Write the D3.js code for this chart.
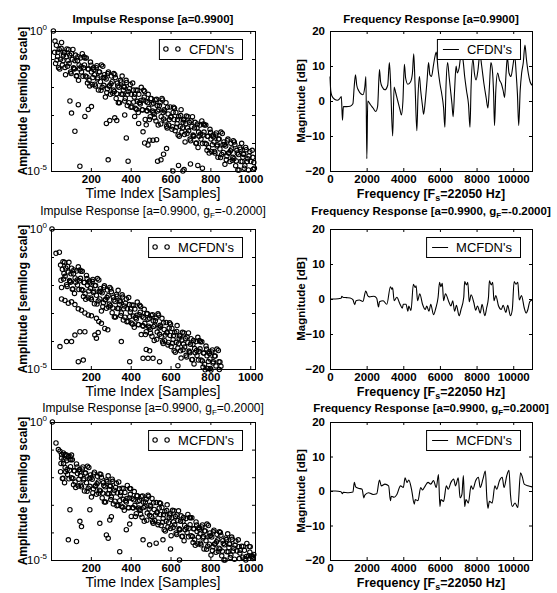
<!DOCTYPE html>
<html>
<head>
<meta charset="utf-8">
<script src="https://cdn.jsdelivr.net/npm/d3@7"></script>
<style>
body { margin: 0; background: #fff; }
</style>
</head>
<body>
<svg id="chart" width="557" height="593"></svg>
<script>
//Tick values
const timeTicks = [200, 400, 600, 800, 1000];
const ampTicks = [1e-5, 1e-4, 1e-3, 1e-2, 1e-1, 1];
const freqTicks = [0, 2000, 4000, 6000, 8000, 10000];
const dbTicks = [-20, -10, 0, 10, 20];

//Impulse responses: [sample index, log10 amplitude]
const cfdnImpulse = [
  [12,0],
  [18,-0.76],[23,-1.16],[27,-0.51],[33,-0.91],[38,-1.31],[41,-0.66],[48,-1.01],[53,-0.41],[57,-1.21],[63,-0.86],
  [68,-0.76],[73,-1.56],[77,-0.91],[83,-1.26],[88,-0.66],[91,-1.16],[98,-1.46],[103,-0.81],[107,-1.01],[113,-1.31],
  [118,-1.36],[123,-0.86],[127,-1.61],[133,-1.06],[138,-1.76],[141,-1.21],[148,-0.96],[153,-1.46],[157,-0.81],[163,-1.31],
  [168,-1.21],[173,-1.61],[177,-0.96],[183,-1.86],[188,-1.36],[191,-1.76],[198,-1.11],[203,-1.46],[207,-1.91],[213,-1.31],
  [218,-1.56],[223,-1.96],[227,-1.31],[233,-1.71],[238,-2.11],[241,-1.46],[248,-1.81],[253,-1.21],[257,-2.01],[263,-1.66],
  [268,-1.56],[273,-2.36],[277,-1.71],[283,-2.06],[288,-1.46],[291,-1.96],[298,-2.26],[303,-1.61],[307,-1.81],[313,-2.11],
  [318,-2.16],[323,-1.66],[327,-2.41],[333,-1.86],[338,-2.56],[341,-2.01],[348,-1.76],[353,-2.26],[357,-1.61],[363,-2.11],
  [368,-2.01],[373,-2.41],[377,-1.76],[383,-2.66],[388,-2.16],[391,-2.56],[398,-1.91],[403,-2.26],[407,-2.71],[413,-2.11],
  [418,-2.36],[423,-2.76],[427,-2.11],[433,-2.51],[438,-2.91],[441,-2.26],[448,-2.61],[453,-2.01],[457,-2.81],[463,-2.46],
  [468,-2.36],[473,-3.16],[477,-2.51],[483,-2.86],[488,-2.26],[491,-2.76],[498,-3.06],[503,-2.41],[507,-2.61],[513,-2.91],
  [518,-2.96],[523,-2.46],[527,-3.21],[533,-2.66],[538,-3.36],[541,-2.81],[548,-2.56],[553,-3.06],[557,-2.41],[563,-2.91],
  [568,-2.81],[573,-3.21],[577,-2.56],[583,-3.46],[588,-2.96],[591,-3.36],[598,-2.71],[603,-3.06],[607,-3.51],[613,-2.91],
  [618,-3.16],[623,-3.56],[627,-2.91],[633,-3.31],[638,-3.71],[641,-3.06],[648,-3.41],[653,-2.81],[657,-3.61],[663,-3.26],
  [668,-3.16],[673,-3.96],[677,-3.31],[683,-3.66],[688,-3.06],[691,-3.56],[698,-3.86],[703,-3.21],[707,-3.41],[713,-3.71],
  [718,-3.76],[723,-3.26],[727,-4.01],[733,-3.46],[738,-4.16],[741,-3.61],[748,-3.36],[753,-3.86],[757,-3.21],[763,-3.71],
  [768,-3.61],[773,-4.01],[777,-3.36],[783,-4.26],[788,-3.76],[791,-4.16],[798,-3.51],[803,-3.86],[807,-4.31],[813,-3.71],
  [818,-3.96],[823,-4.36],[827,-3.71],[833,-4.11],[838,-4.51],[841,-3.86],[848,-4.21],[853,-3.61],[857,-4.41],[863,-4.06],
  [868,-3.96],[873,-4.76],[877,-4.11],[883,-4.46],[888,-3.86],[891,-4.36],[898,-4.66],[903,-4.01],[907,-4.21],[913,-4.51],
  [918,-4.56],[923,-4.06],[927,-4.81],[933,-4.26],[938,-4.96],[941,-4.41],[948,-4.16],[953,-4.66],[957,-4.01],[963,-4.51],
  [968,-4.41],[973,-4.81],[977,-4.16],[983,-5.06],[988,-4.56],[991,-4.96],[998,-4.31],[1003,-4.66],[1007,-5.11],[1013,-4.51],
  [1018,-4.7],[1021,-4.9],
  [20,-0.36],[30,-1.04],[35,-0.76],[44,-1.36],[51,-0.62],[60,-1.06],[65,-0.78],
  [70,-1.30],[80,-0.64],[85,-1.06],[94,-0.86],[101,-1.52],[110,-0.66],[115,-1.34],
  [120,-1.06],[130,-1.60],[135,-0.92],[144,-1.36],[151,-1.28],[160,-1.62],[165,-0.92],
  [170,-0.96],[180,-1.64],[185,-1.36],[194,-1.96],[201,-1.22],[210,-1.66],[215,-1.38],
  [220,-1.90],[230,-1.24],[235,-1.66],[244,-1.46],[251,-2.12],[260,-1.26],[265,-1.94],
  [270,-1.66],[280,-2.20],[285,-1.52],[294,-1.96],[301,-1.88],[310,-2.22],[315,-1.52],
  [320,-1.56],[330,-2.24],[335,-1.96],[344,-2.56],[351,-1.82],[360,-2.26],[365,-1.98],
  [370,-2.50],[380,-1.84],[385,-2.26],[394,-2.06],[401,-2.72],[410,-1.86],[415,-2.54],
  [420,-2.26],[430,-2.80],[435,-2.12],[444,-2.56],[451,-2.48],[460,-2.82],[465,-2.12],
  [470,-2.16],[480,-2.84],[485,-2.56],[494,-3.16],[501,-2.42],[510,-2.86],[515,-2.58],
  [520,-3.10],[530,-2.44],[535,-2.86],[544,-2.66],[551,-3.32],[560,-2.46],[565,-3.14],
  [570,-2.86],[580,-3.40],[585,-2.72],[594,-3.16],[601,-3.08],[610,-3.42],[615,-2.72],
  [620,-2.76],[630,-3.44],[635,-3.16],[644,-3.76],[651,-3.02],[660,-3.46],[665,-3.18],
  [670,-3.70],[680,-3.04],[685,-3.46],[694,-3.26],[701,-3.92],[710,-3.06],[715,-3.74],
  [720,-3.46],[730,-4.00],[735,-3.32],[744,-3.76],[751,-3.68],[760,-4.02],[765,-3.32],
  [770,-3.36],[780,-4.04],[785,-3.76],[794,-4.36],[801,-3.62],[810,-4.06],[815,-3.78],
  [820,-4.30],[830,-3.64],[835,-4.06],[844,-3.86],[851,-4.52],[860,-3.66],[865,-4.34],
  [870,-4.06],[880,-4.60],[885,-3.92],[894,-4.36],[901,-4.28],[910,-4.62],[915,-3.92],
  [920,-3.96],[930,-4.64],[935,-4.36],[944,-4.96],[951,-4.22],[960,-4.66],[965,-4.38],
  [970,-4.90],[980,-4.24],[985,-4.66],[994,-4.46],[1001,-5.12],[1010,-4.26],[1015,-4.94],
  [95,-2.5],[103,-2.93],[120,-3.58],[137,-2.63],[145,-4.83],[170,-3.05],[187,-2.8],[203,-2.7],[278,-3.3],[295,-3.2],
  [287,-4.6],[320,-3.1],[330,-3.2],[370,-3.0],[378,-3.82],[387,-4.65],[420,-3.05],[440,-3.3],[462,-3.6],[470,-4.0],
  [478,-3.35],[487,-4.07],[495,-3.9],[512,-3.9],[530,-3.88],[535,-4.65],[552,-4.6],[565,-4.4],[580,-4.2],[612,-5.0],
  [640,-4.8],[662,-5.0],[668,-4.95],[700,-4.75],[737,-4.8],[760,-4.9]
];

const mcfdnNegImpulse = [
  [5,0],[25,-0.87],[42,-0.83],
  [48,-1.29],[53,-2.09],[57,-1.44],[63,-1.79],[68,-1.19],[71,-1.69],[78,-1.99],[83,-1.34],[87,-1.54],[93,-1.84],
  [98,-1.90],[103,-1.40],[107,-2.15],[113,-1.60],[118,-2.30],[121,-1.75],[128,-1.50],[133,-2.00],[137,-1.35],[143,-1.85],
  [148,-1.76],[153,-2.16],[157,-1.51],[163,-2.41],[168,-1.91],[171,-2.31],[178,-1.66],[183,-2.01],[187,-2.46],[193,-1.86],
  [198,-2.12],[203,-2.52],[207,-1.87],[213,-2.27],[218,-2.67],[221,-2.02],[228,-2.37],[233,-1.77],[237,-2.57],[243,-2.22],
  [248,-2.13],[253,-2.93],[257,-2.28],[263,-2.63],[268,-2.03],[271,-2.53],[278,-2.83],[283,-2.18],[287,-2.38],[293,-2.68],
  [298,-2.74],[303,-2.24],[307,-2.99],[313,-2.44],[318,-3.14],[321,-2.59],[328,-2.34],[333,-2.84],[337,-2.19],[343,-2.69],
  [348,-2.60],[353,-3.00],[357,-2.35],[363,-3.25],[368,-2.75],[371,-3.15],[378,-2.50],[383,-2.85],[387,-3.30],[393,-2.70],
  [398,-2.96],[403,-3.36],[407,-2.71],[413,-3.11],[418,-3.51],[421,-2.86],[428,-3.21],[433,-2.61],[437,-3.41],[443,-3.06],
  [448,-2.97],[453,-3.77],[457,-3.12],[463,-3.47],[468,-2.87],[471,-3.37],[478,-3.67],[483,-3.02],[487,-3.22],[493,-3.52],
  [498,-3.58],[503,-3.08],[507,-3.83],[513,-3.28],[518,-3.98],[521,-3.43],[528,-3.18],[533,-3.68],[537,-3.03],[543,-3.53],
  [548,-3.44],[553,-3.84],[557,-3.19],[563,-4.09],[568,-3.59],[571,-3.99],[578,-3.34],[583,-3.69],[587,-4.14],[593,-3.54],
  [598,-3.80],[603,-4.20],[607,-3.55],[613,-3.95],[618,-4.35],[621,-3.70],[628,-4.05],[633,-3.45],[637,-4.25],[643,-3.90],
  [648,-3.81],[653,-4.61],[657,-3.96],[663,-4.31],[668,-3.71],[671,-4.21],[678,-4.51],[683,-3.86],[687,-4.06],[693,-4.36],
  [698,-4.42],[703,-3.92],[707,-4.67],[713,-4.12],[718,-4.82],[721,-4.27],[728,-4.02],[733,-4.52],[737,-3.87],[743,-4.37],
  [748,-4.28],[753,-4.68],[757,-4.03],[763,-4.93],[768,-4.43],[771,-4.83],[778,-4.18],[783,-4.53],[787,-4.98],[793,-4.38],
  [798,-4.64],[803,-5.04],[807,-4.39],[813,-4.79],[818,-5.19],[821,-4.54],[828,-4.89],[833,-4.29],[837,-5.09],[843,-4.74],
  [848,-4.75],[853,-4.9],
  [50,-1.83],[60,-1.17],[65,-1.59],[74,-1.39],[81,-2.05],[90,-1.19],[95,-1.87],
  [100,-1.60],[110,-2.14],[115,-1.46],[124,-1.90],[131,-1.82],[140,-2.16],[145,-1.46],
  [150,-1.51],[160,-2.19],[165,-1.91],[174,-2.51],[181,-1.77],[190,-2.21],[195,-1.93],
  [200,-2.46],[210,-1.80],[215,-2.22],[224,-2.02],[231,-2.68],[240,-1.82],[245,-2.50],
  [250,-2.23],[260,-2.77],[265,-2.09],[274,-2.53],[281,-2.45],[290,-2.79],[295,-2.09],
  [300,-2.14],[310,-2.82],[315,-2.54],[324,-3.14],[331,-2.40],[340,-2.84],[345,-2.56],
  [350,-3.09],[360,-2.43],[365,-2.85],[374,-2.65],[381,-3.31],[390,-2.45],[395,-3.13],
  [400,-2.86],[410,-3.40],[415,-2.72],[424,-3.16],[431,-3.08],[440,-3.42],[445,-2.72],
  [450,-2.77],[460,-3.45],[465,-3.17],[474,-3.77],[481,-3.03],[490,-3.47],[495,-3.19],
  [500,-3.72],[510,-3.06],[515,-3.48],[524,-3.28],[531,-3.94],[540,-3.08],[545,-3.76],
  [550,-3.49],[560,-4.03],[565,-3.35],[574,-3.79],[581,-3.71],[590,-4.05],[595,-3.35],
  [600,-3.40],[610,-4.08],[615,-3.80],[624,-4.40],[631,-3.66],[640,-4.10],[645,-3.82],
  [650,-4.35],[660,-3.69],[665,-4.11],[674,-3.91],[681,-4.57],[690,-3.71],[695,-4.39],
  [700,-4.12],[710,-4.66],[715,-3.98],[724,-4.42],[731,-4.34],[740,-4.68],[745,-3.98],
  [750,-4.03],[760,-4.71],[765,-4.43],[774,-5.03],[781,-4.29],[790,-4.73],[795,-4.45],
  [800,-4.98],[810,-4.32],[815,-4.74],[824,-4.54],[831,-5.20],[840,-4.34],[845,-5.02],
  [53,-2.5],[70,-2.55],[87,-2.65],[103,-2.6],[120,-2.7],[137,-2.85],[153,-2.9],[170,-3.0],[187,-3.07],[203,-3.1],
  [228,-3.19],[240,-3.3],[253,-3.37],[270,-3.55],[285,-3.6],
  [45,-4.2],[78,-4.02],[103,-4.02],[120,-3.79],[145,-3.67],[170,-3.67],[137,-4.74],[162,-4.68],[220,-3.79],[237,-3.7],
  [228,-3.9],[353,-4.02],[395,-4.74],[462,-4.62],[478,-4.3],[487,-4.62],[495,-4.35],[512,-4.62],[545,-4.74],[637,-4.88]
];

const mcfdnPosImpulse = [
  [7,0],[25,-0.76],[37,-1.0],[45,-1.06],[53,-1.18],[62,-1.12],[70,-1.18],[78,-1.2],[95,-1.25],[103,-1.2],
  [48,-1.80],[53,-1.30],[57,-2.05],[63,-1.50],[68,-2.20],[71,-1.65],[78,-1.40],[83,-1.90],[87,-1.25],[93,-1.75],
  [98,-1.62],[103,-2.02],[107,-1.37],[113,-2.27],[118,-1.77],[121,-2.17],[128,-1.52],[133,-1.87],[137,-2.32],[143,-1.72],
  [148,-1.95],[153,-2.35],[157,-1.70],[163,-2.10],[168,-2.50],[171,-1.85],[178,-2.20],[183,-1.60],[187,-2.40],[193,-2.05],
  [198,-1.92],[203,-2.72],[207,-2.07],[213,-2.42],[218,-1.82],[221,-2.32],[228,-2.62],[233,-1.97],[237,-2.17],[243,-2.47],
  [248,-2.50],[253,-2.00],[257,-2.75],[263,-2.20],[268,-2.90],[271,-2.35],[278,-2.10],[283,-2.60],[287,-1.95],[293,-2.45],
  [298,-2.32],[303,-2.72],[307,-2.07],[313,-2.97],[318,-2.47],[321,-2.87],[328,-2.22],[333,-2.57],[337,-3.02],[343,-2.42],
  [348,-2.65],[353,-3.05],[357,-2.40],[363,-2.80],[368,-3.20],[371,-2.55],[378,-2.90],[383,-2.30],[387,-3.10],[393,-2.75],
  [398,-2.62],[403,-3.42],[407,-2.77],[413,-3.12],[418,-2.52],[421,-3.02],[428,-3.32],[433,-2.67],[437,-2.87],[443,-3.17],
  [448,-3.20],[453,-2.70],[457,-3.45],[463,-2.90],[468,-3.60],[471,-3.05],[478,-2.80],[483,-3.30],[487,-2.65],[493,-3.15],
  [498,-3.02],[503,-3.42],[507,-2.77],[513,-3.67],[518,-3.17],[521,-3.57],[528,-2.92],[533,-3.27],[537,-3.72],[543,-3.12],
  [548,-3.35],[553,-3.75],[557,-3.10],[563,-3.50],[568,-3.90],[571,-3.25],[578,-3.60],[583,-3.00],[587,-3.80],[593,-3.45],
  [598,-3.32],[603,-4.12],[607,-3.47],[613,-3.82],[618,-3.22],[621,-3.72],[628,-4.02],[633,-3.37],[637,-3.57],[643,-3.87],
  [648,-3.90],[653,-3.40],[657,-4.15],[663,-3.60],[668,-4.30],[671,-3.75],[678,-3.50],[683,-4.00],[687,-3.35],[693,-3.85],
  [698,-3.72],[703,-4.12],[707,-3.47],[713,-4.37],[718,-3.87],[721,-4.27],[728,-3.62],[733,-3.97],[737,-4.42],[743,-3.82],
  [748,-4.05],[753,-4.45],[757,-3.80],[763,-4.20],[768,-4.60],[771,-3.95],[778,-4.30],[783,-3.70],[787,-4.50],[793,-4.15],
  [798,-4.02],[803,-4.82],[807,-4.17],[813,-4.52],[818,-3.92],[821,-4.42],[828,-4.72],[833,-4.07],[837,-4.27],[843,-4.57],
  [848,-4.60],[853,-4.10],[857,-4.85],[863,-4.30],[868,-5.00],[871,-4.45],[878,-4.20],[883,-4.70],[887,-4.05],[893,-4.55],
  [898,-4.42],[903,-4.82],[907,-4.17],[913,-5.07],[918,-4.57],[921,-4.97],[928,-4.32],[933,-4.67],[937,-5.12],[943,-4.52],
  [948,-4.75],[953,-5.15],[957,-4.50],[963,-4.90],[968,-5.30],[971,-4.65],[978,-5.00],[983,-4.40],[987,-5.20],[993,-4.85],
  [998,-4.72],[1003,-5.2],[1007,-4.87],[1013,-4.95],[1018,-4.8],
  [50,-1.50],[60,-2.04],[65,-1.36],[74,-1.80],[81,-1.72],[90,-2.06],[95,-1.36],
  [100,-1.37],[110,-2.05],[115,-1.77],[124,-2.37],[131,-1.63],[140,-2.07],[145,-1.79],
  [150,-2.29],[160,-1.63],[165,-2.05],[174,-1.85],[181,-2.51],[190,-1.65],[195,-2.33],
  [200,-2.02],[210,-2.56],[215,-1.88],[224,-2.32],[231,-2.24],[240,-2.58],[245,-1.88],
  [250,-1.90],[260,-2.58],[265,-2.30],[274,-2.90],[281,-2.16],[290,-2.60],[295,-2.32],
  [300,-2.81],[310,-2.15],[315,-2.57],[324,-2.37],[331,-3.03],[340,-2.17],[345,-2.85],
  [350,-2.55],[360,-3.09],[365,-2.41],[374,-2.85],[381,-2.77],[390,-3.11],[395,-2.41],
  [400,-2.42],[410,-3.10],[415,-2.82],[424,-3.42],[431,-2.68],[440,-3.12],[445,-2.84],
  [450,-3.34],[460,-2.68],[465,-3.10],[474,-2.90],[481,-3.56],[490,-2.70],[495,-3.38],
  [500,-3.07],[510,-3.61],[515,-2.93],[524,-3.37],[531,-3.29],[540,-3.63],[545,-2.93],
  [550,-2.95],[560,-3.63],[565,-3.35],[574,-3.95],[581,-3.21],[590,-3.65],[595,-3.37],
  [600,-3.86],[610,-3.20],[615,-3.62],[624,-3.42],[631,-4.08],[640,-3.22],[645,-3.90],
  [650,-3.60],[660,-4.14],[665,-3.46],[674,-3.90],[681,-3.82],[690,-4.16],[695,-3.46],
  [700,-3.47],[710,-4.15],[715,-3.87],[724,-4.47],[731,-3.73],[740,-4.17],[745,-3.89],
  [750,-4.39],[760,-3.73],[765,-4.15],[774,-3.95],[781,-4.61],[790,-3.75],[795,-4.43],
  [800,-4.12],[810,-4.66],[815,-3.98],[824,-4.42],[831,-4.34],[840,-4.68],[845,-3.98],
  [850,-4.00],[860,-4.68],[865,-4.40],[874,-5.00],[881,-4.26],[890,-4.70],[895,-4.42],
  [900,-4.91],[910,-4.25],[915,-4.67],[924,-4.47],[931,-5.13],[940,-4.27],[945,-4.95],
  [950,-4.65],[960,-5.19],[965,-4.51],[974,-4.95],[981,-4.87],[990,-5.21],[995,-4.51],
  [1000,-4.52],[1010,-4.85],[1015,-4.9],
  [95,-3.18],[145,-3.6],[153,-3.79],[87,-4.27],[128,-4.33],[195,-3.18],[245,-3.67],[278,-4.09],[287,-4.21],[295,-3.55],
  [303,-3.43],[345,-4.7],[378,-3.9],[395,-3.7],[462,-4.27],[495,-4.45],[528,-4.39],[562,-4.27],[600,-4.6],[645,-5.0]
];

//Frequency responses: [frequency in Hz, magnitude in dB]
const cfdnFreq = [
  [0,7],[40,3],[100,1.5],[250,0.5],[400,0.2],[520,0.6],[620,1.3],[680,-5.5],[730,-1.6],[900,-1.6],
  [1100,-1.5],[1250,-0.8],[1320,4],[1390,7.5],[1460,4.5],[1560,3],[1700,2],[1800,1.8],[1900,4],[1960,7],
  [2010,-16.5],[2060,0],[2200,-1],[2350,-2],[2500,-3],[2600,-1.5],[2700,9],[2760,5.5],[2850,4],[3000,3.2],
  [3150,4.5],[3240,11],[3300,6],[3420,-10],[3500,4],[3580,2.5],[3700,0],[3820,-2.5],[3900,-4],[3980,0],
  [4060,10.5],[4130,6.5],[4250,4.8],[4400,5.5],[4500,8],[4570,13.5],[4640,5],[4740,-8.5],[4800,1],[4880,7],
  [4950,3],[5050,-1.5],[5110,-3.8],[5200,0],[5300,6],[5380,11],[5450,7.5],[5540,7],[5640,10],[5720,12.5],
  [5800,14],[5900,9],[6000,5],[6100,2],[6200,-2],[6270,-7.5],[6330,4],[6420,11],[6500,7],[6580,3],
  [6660,-1],[6720,-4.5],[6800,3],[6880,10],[6950,8],[7050,9.5],[7150,13],[7250,12],[7350,7],[7450,3],
  [7560,-1],[7640,-7.5],[7700,4],[7800,12],[7880,8],[7970,6],[8080,9],[8180,13.5],[8280,10],[8400,5],
  [8520,1],[8620,-2],[8700,4],[8780,11],[8860,9],[8930,2],[8980,-7],[9050,3],[9150,8],[9250,6],
  [9350,5],[9450,3],[9530,1],[9600,7],[9680,12.5],[9770,8],[9880,7],[9980,10],[10080,13],[10160,8],
  [10230,2],[10300,-7],[10380,3],[10460,8],[10550,11],[10640,16],[10720,12],[10820,8],[10920,5.5],[11025,4.5]
];

const mcfdnNegFreq = [
  [0,0],[300,0],[600,0.2],[650,0.8],[700,0.5],[900,0.4],[1100,0.3],[1250,-0.2],[1350,-1.6],[1420,-0.5],
  [1600,-0.3],[1800,-0.7],[1950,2.3],[2000,1.8],[2050,1.0],[2150,0.6],[2400,0.8],[2550,0.2],[2650,-2.3],[2700,-0.8],
  [2900,-0.5],[3100,-1.5],[3300,3.5],[3380,2.8],[3420,3.2],[3500,-0.5],[3650,0.5],[3800,-1.2],[3950,-2.6],[4000,-1.5],
  [4150,-1.5],[4250,-3.5],[4300,-2.0],[4420,-3.3],[4550,4.2],[4650,3.3],[4700,3.8],[4780,-0.5],[4900,1.5],[5050,-1.5],
  [5200,-3.0],[5280,-2.0],[5400,-3.5],[5500,-1.5],[5650,-4.5],[5780,-2.5],[5900,0.5],[5980,4.8],[6050,3.5],[6130,4.5],
  [6200,-0.5],[6300,1.5],[6500,-1.0],[6600,-2.0],[6700,-0.5],[6800,-3.5],[6900,-1.8],[7050,-4.8],[7150,-3.0],[7300,0.5],
  [7350,5.0],[7450,4.0],[7520,4.8],[7600,-0.8],[7700,1.2],[7850,-1.0],[7950,-3.2],[8050,-2.0],[8200,-4.0],[8300,-1.5],
  [8450,-4.8],[8550,-2.5],[8650,0.5],[8700,5.2],[8800,4.0],[8880,4.8],[8950,-0.5],[9050,1.0],[9200,-2.0],[9350,-3.0],
  [9450,-1.8],[9600,-3.8],[9700,-1.8],[9850,-4.8],[9950,-3.0],[10050,5.0],[10150,4.2],[10250,4.8],[10330,-0.3],[10450,1.0],
  [10600,-2.5],[10700,-4.0],[10800,-3.0],[10900,-0.8],[11025,-0.3]
];

const mcfdnPosFreq = [
  [0,0],[300,0],[600,-0.2],[680,-0.8],[720,-0.4],[1000,-0.5],[1250,-0.3],[1330,2.5],[1400,1.2],[1550,0.8],
  [1750,0.5],[1850,-2.0],[1900,-1.2],[2100,-0.5],[2350,-1.0],[2550,-0.8],[2700,3.2],[2800,1.5],[3000,2.0],[3200,1.5],
  [3300,-2.8],[3350,-1.5],[3500,-1.8],[3650,-1.0],[3850,1.5],[4000,1.0],[4100,3.8],[4200,2.5],[4300,3.2],[4450,0.5],
  [4600,-3.8],[4650,-2.5],[4800,-2.8],[4950,1.0],[5050,0.3],[5200,1.5],[5350,2.5],[5500,2.0],[5650,3.0],[5800,1.0],
  [5920,4.8],[6000,-4.5],[6050,-2.5],[6200,-3.0],[6350,1.5],[6450,0.5],[6600,2.5],[6750,3.5],[6850,1.5],[7000,3.8],
  [7100,-2.0],[7200,-1.0],[7280,4.5],[7350,-4.5],[7420,-2.5],[7550,-3.5],[7700,1.5],[7800,0.5],[7950,3.0],[8100,4.0],
  [8200,1.0],[8350,3.5],[8480,5.8],[8560,-2.0],[8620,-5.0],[8700,-3.0],[8850,-3.5],[9000,1.5],[9100,0.5],[9250,3.0],
  [9400,4.0],[9500,1.0],[9650,4.5],[9770,6.0],[9850,-1.0],[9950,-4.5],[10100,-3.5],[10250,-4.8],[10400,5.3],[10500,4.0],
  [10600,2.0],[10800,1.5],[11025,1.2]
];

//Panel texts
const panelTitles = [
  ["Impulse Response [a=0.9900]"],
  ["Frequency Response [a=0.9900]"],
  ["Impulse Response [a=0.9900, g", {sub: "F"}, "=-0.2000]"],
  ["Frequency Response [a=0.9900, g", {sub: "F"}, "=-0.2000]"],
  ["Impulse Response [a=0.9900, g", {sub: "F"}, "=0.2000]"],
  ["Frequency Response [a=0.9900, g", {sub: "F"}, "=0.2000]"]
];
const legendNames = ["CFDN's", "CFDN's", "MCFDN's", "MCFDN's", "MCFDN's", "MCFDN's"];

var svg = d3.select("#chart");
var font = "'Liberation Sans', Arial, Helvetica, sans-serif";

//Plot rectangles
var cols = [[51, 255], [330, 532]];
var rows = [[31, 171], [229, 369], [422, 560]];
var titleBase = [23, 215, 412];
//Distance from the bottom of each row to its x label baseline
var xLabelGap = [27, 27, 27];

//Write a text made of plain strings and {sub: ...} parts
function writeParts(textSel, parts, subSize){
    var shift = 0;
    parts.forEach(function(p){
        if (typeof p === "string") {
            textSel.append("tspan").attr("dy", -shift).text(p);
            shift = 0;
        } else {
            textSel.append("tspan").attr("dy", 3).attr("font-size", subSize).text(p.sub);
            shift = 3;
        }
    });
}

//Box with inward ticks on all four sides
function drawFrame(g, x, y, xTicks, yTicks, showYLabels){
    var xr = x.range(), yr = y.range();
    g.append("rect")
    .attr("x", xr[0] + 0.5).attr("y", yr[1] + 0.5)
    .attr("width", xr[1] - xr[0]).attr("height", yr[0] - yr[1])
    .attr("fill", "none").attr("stroke", "#000").attr("stroke-width", 1);

    var bottom = g.append("g").attr("transform", "translate(0," + yr[0] + ")")
    .call(d3.axisBottom(x).tickValues(xTicks).tickSize(-3).tickSizeOuter(0).tickPadding(4).tickFormat(d3.format("d")));
    bottom.attr("font-size", 11.5).attr("font-family", font).attr("font-weight", "bold");

    g.append("g").attr("transform", "translate(0," + yr[1] + ")")
    .call(d3.axisTop(x).tickValues(xTicks).tickSize(-3).tickSizeOuter(0).tickFormat(""));

    var left = g.append("g").attr("transform", "translate(" + xr[0] + ",0)")
    .call(d3.axisLeft(y).tickValues(yTicks).tickSize(-3).tickSizeOuter(0).tickPadding(5)
        .tickFormat(showYLabels ? d3.format("d") : ""));
    left.attr("font-size", 11.5).attr("font-family", font).attr("font-weight", "bold");

    g.append("g").attr("transform", "translate(" + xr[1] + ",0)")
    .call(d3.axisRight(y).tickValues(yTicks).tickSize(-3).tickSizeOuter(0).tickFormat(""));

    g.selectAll(".domain").remove();
    g.selectAll(".tick line").attr("stroke-width", 1);
}

//Legend anchored at its upper right corner
function drawLegend(g, right, top, name, kind){
    var lg = g.append("g");
    var box = lg.append("rect");
    var txt = lg.append("text").attr("font-size", 13).attr("font-family", font).text(name);
    var w = txt.node().getComputedTextLength() + 38;
    var left = right - w;
    box.attr("x", left + 0.5).attr("y", top + 0.5).attr("width", w).attr("height", 20)
    .attr("fill", "#fff").attr("stroke", "#000");
    txt.attr("x", left + 30).attr("y", top + 15);
    if (kind === "marker") {
        lg.selectAll("circle").data([left + 7, left + 19]).enter().append("circle")
        .attr("cx", function(d){return d;}).attr("cy", top + 10).attr("r", 2.2)
        .attr("fill", "none").attr("stroke", "#000").attr("stroke-width", 1.1);
    } else {
        lg.append("line").attr("x1", left + 6).attr("x2", left + 22)
        .attr("y1", top + 10.5).attr("y2", top + 10.5).attr("stroke", "#000");
    }
}

//Title and axis labels of one panel
function drawTexts(g, col, row, titleParts, xParts, yLabel, boldTitle){
    var xr = cols[col], yr = rows[row];
    var cx = (xr[0] + xr[1]) / 2;
    var t = g.append("text").attr("x", cx).attr("y", titleBase[row]).attr("text-anchor", "middle")
    .attr("font-family", font).attr("font-size", boldTitle ? 11.5 : 12).attr("font-weight", boldTitle ? "bold" : "normal");
    writeParts(t, titleParts, 8);

    var xl = g.append("text").attr("x", cx).attr("y", yr[1] + xLabelGap[row]).attr("text-anchor", "middle")
    .attr("font-family", font);
    if (col === 0) xl.attr("font-size", 14);
    else xl.attr("font-size", 12.5).attr("font-weight", "bold");
    writeParts(xl, xParts, 9);

    var ly = col === 0 ? 27 : 305;
    g.append("text").attr("transform", "translate(" + ly + "," + ((yr[0] + yr[1]) / 2) + ") rotate(-90)")
    .attr("text-anchor", "middle").attr("font-family", font).attr("font-weight", "bold")
    .attr("font-size", col === 0 ? 12 : 11.5).text(yLabel);
}

//Semilog scatter of an impulse response
function drawImpulse(row, data, idx){
    var x = d3.scaleLinear().domain([0, 1024]).range(cols[0]);
    var y = d3.scaleLog().domain([1e-5, 1]).range([rows[row][1], rows[row][0]]);
    var g = svg.append("g");
    drawFrame(g, x, y, timeTicks, ampTicks, false);

    //Only the end decades carry labels
    [1, 1e-5].forEach(function(v){
        var t = g.append("text").attr("x", cols[0][0] - 4).attr("y", y(v) + 4)
        .attr("text-anchor", "end").attr("font-family", font).attr("font-size", 11.5);
        t.append("tspan").text("10");
        t.append("tspan").attr("dy", -5).attr("font-size", 8).text(v === 1 ? "0" : "-5");
    });

    g.append("g").selectAll("circle")
    .data(data.filter(function(d){return d[1] >= -5.05;}))
    .enter().append("circle")
    .attr("cx", function(d){return x(d[0]);})
    .attr("cy", function(d){return y(Math.pow(10, d[1]));})
    .attr("r", 2.2)
    .attr("fill", "none").attr("stroke", "#000").attr("stroke-width", 1.1);

    drawTexts(g, 0, row, panelTitles[idx], ["Time Index [Samples]"], "Amplitude [semilog scale]", row === 0);
    drawLegend(g, cols[0][1] - 13, rows[row][0] + 8, legendNames[idx], "marker");
}

//Magnitude response line
function drawFreq(row, data, idx){
    var x = d3.scaleLinear().domain([0, 11025]).range(cols[1]);
    var y = d3.scaleLinear().domain([-20, 20]).range([rows[row][1], rows[row][0]]);
    var g = svg.append("g");
    drawFrame(g, x, y, freqTicks, dbTicks, true);

    var line = d3.line().curve(d3.curveMonotoneX)
    .x(function(d){return x(d[0]);}).y(function(d){return y(d[1]);});
    g.append("path").datum(data).attr("d", line)
    .attr("fill", "none").attr("stroke", "#000").attr("stroke-width", 1.1).attr("stroke-linejoin", "round");

    drawTexts(g, 1, row, panelTitles[idx], ["Frequency [F", {sub: "s"}, "=22050 Hz]"], "Magnitude [dB]", true);
    drawLegend(g, cols[1][1] - 12, rows[row][0] + 8, legendNames[idx], "line");
}

drawImpulse(0, cfdnImpulse, 0);
drawFreq(0, cfdnFreq, 1);
drawImpulse(1, mcfdnNegImpulse, 2);
drawFreq(1, mcfdnNegFreq, 3);
drawImpulse(2, mcfdnPosImpulse, 4);
drawFreq(2, mcfdnPosFreq, 5);
</script>
</body>
</html>
